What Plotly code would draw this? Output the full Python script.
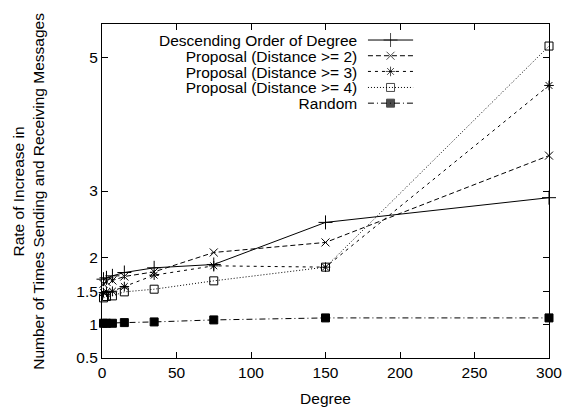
import plotly.graph_objects as go

# ---- data ----
degree = [1, 3, 7, 15, 35, 75, 150, 300]
descending = [1.68, 1.70, 1.73, 1.78, 1.85, 1.90, 2.53, 2.90]
dist2 = [1.61, 1.64, 1.66, 1.72, 1.79, 2.08, 2.23, 3.53]
dist3 = [1.48, 1.49, 1.50, 1.57, 1.74, 1.88, 1.86, 4.58]
dist4 = [1.40, 1.42, 1.43, 1.49, 1.53, 1.655, 1.86, 5.17]
random_ = [1.02, 1.02, 1.02, 1.03, 1.04, 1.07, 1.10, 1.10]

series_names = ["Descending Order of Degree", "Proposal (Distance >= 2)",
                "Proposal (Distance >= 3)", "Proposal (Distance >= 4)", "Random"]
series_values = [descending, dist2, dist3, dist4, random_]

x_ticks = [0, 50, 100, 150, 200, 250, 300]
y_ticks = [0.5, 1, 1.5, 2, 3, 5]

# ---- styles ----
FONT = "Liberation Sans, Arial, Helvetica, sans-serif"
FS = 15.5
styles = [
    dict(dash="solid", symbol="cross-thin-open", size=10),
    dict(dash="5px,3px", symbol="x-thin-open", size=8),
    dict(dash="3px,4px", symbol="asterisk-open", size=8),
    dict(dash="1px,2px", symbol="square-open", size=8),
    dict(dash="6px,3px,1px,3px", symbol="square", size=8),
]

fig = go.Figure()
for name, vals, st in zip(series_names, series_values, styles):
    fig.add_trace(go.Scatter(
        x=degree, y=vals, mode="lines+markers", name=name, showlegend=False,
        line=dict(color="black", width=1, dash=st["dash"]),
        marker=dict(symbol=st["symbol"], size=st["size"], color="black",
                    line=dict(color="black", width=1)),
        cliponaxis=False,
    ))

# manual gnuplot-style key (text right aligned, sample to the right)
row_y = [0.952, 0.905, 0.858, 0.810, 0.763]
text_x = 0.572
s0, s1 = 0.595, 0.696
for st, ry in zip(styles, row_y):
    fig.add_trace(go.Scatter(
        x=[s0, (s0 + s1) / 2, s1], y=[ry, ry, ry], xaxis="x2", yaxis="y2",
        mode="lines+markers", showlegend=False, hoverinfo="skip",
        line=dict(color="black", width=1, dash=st["dash"]),
        marker=dict(symbol=st["symbol"], size=[0, st["size"], 0], color="black",
                    line=dict(color="black", width=1)),
    ))

# key text as one right-aligned block; a small base font keeps gnuplot's tight row pitch
key_text = "<br>".join(
    '<span style="font-size:%spx">%s</span>' % (FS, n.replace(">", "&gt;"))
    for n in series_names)
fig.add_annotation(x=text_x, y=sum(row_y) / len(row_y), xref="paper", yref="paper",
                   text=key_text, align="right", showarrow=False,
                   xanchor="right", yanchor="middle", borderpad=0,
                   font=dict(family=FONT, size=12.15, color="black"))

axis_common = dict(showline=True, linecolor="black", linewidth=1, mirror="ticks",
                   ticks="inside", ticklen=6, tickcolor="black", showgrid=False,
                   zeroline=False, automargin=False,
                   tickfont=dict(family=FONT, size=FS, color="black"))

# the page adds an 8px body margin, so the figure is 8px smaller than the window
fig.update_layout(
    width=562, height=399,
    margin=dict(l=94, r=21, t=16, b=49),
    paper_bgcolor="white", plot_bgcolor="white",
    xaxis=dict(range=[0, 300], tickvals=x_ticks, ticktext=[str(t) for t in x_ticks],
               title=dict(text="Degree", font=dict(family=FONT, size=FS, color="black"),
                          standoff=13),
               **axis_common),
    yaxis=dict(range=[0.5, 5.5], tickvals=y_ticks, ticktext=[str(t) for t in y_ticks],
               **axis_common),
    xaxis2=dict(overlaying="x", range=[0, 1], visible=False),
    yaxis2=dict(overlaying="y", range=[0, 1], visible=False),
)

fig.add_annotation(x=-0.166, y=0.5, xref="paper", yref="paper",
                   text="Rate of Increase in<br>Number of Times Sending and Receiving Messages",
                   showarrow=False, textangle=-90, xanchor="center", yanchor="middle",
                   font=dict(family=FONT, size=FS, color="black"))

fig.write_html("out.html")
